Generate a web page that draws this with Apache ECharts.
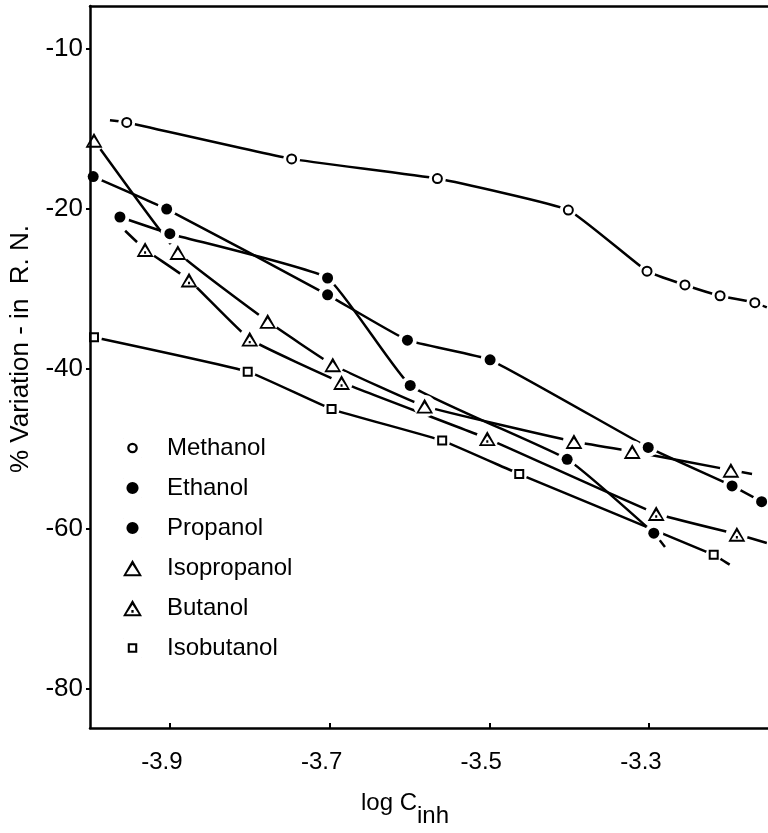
<!DOCTYPE html>
<html>
<head>
<meta charset="utf-8">
<script src="https://cdn.jsdelivr.net/npm/echarts@6/dist/echarts.min.js"></script>
<style>html,body{margin:0;padding:0;background:#fff;}#chart{width:768px;height:833px;}</style>
</head>
<body>
<div id="chart"></div>
<script>
// ---- axis ticks ----
const xTicks = [-3.9, -3.7, -3.5, -3.3];
const xTickLabels = ['-3.9', '-3.7', '-3.5', '-3.3'];
const yTicks = [-80, -60, -40, -20, 0];
const yTickLabels = ['-80', '-60', '-40', '-20', '-10'];

// ---- series values [log C_inh, % variation] ----
const seriesNames = ['Methanol', 'Ethanol', 'Propanol', 'Isopropanol', 'Butanol', 'Isobutanol'];
const methanol = [[-3.954, -9.16], [-3.7475, -13.72], [-3.565, -16.18], [-3.401, -20.12], [-3.3025, -27.76], [-3.255, -29.49], [-3.211, -30.84], [-3.1675, -31.70]];
const methanolLead = [-3.975, -8.9];
const methanolTrail = [-3.1525, -32.3];
const ethanol = [[-3.996, -15.93], [-3.904, -20.0], [-3.7025, -30.72], [-3.6025, -36.39], [-3.499, -38.85], [-3.301, -49.81], [-3.196, -54.62], [-3.159, -56.59]];
const propanol = [[-3.9625, -20.99], [-3.9, -23.08], [-3.7025, -28.62], [-3.599, -42.05], [-3.4025, -51.29], [-3.294, -60.53]];
const propanolTrail = [-3.28, -62.26];
const isopropanol = [[-3.995, -11.38], [-3.89, -25.42], [-3.7775, -34.04], [-3.696, -39.47], [-3.581, -44.64], [-3.394, -49.07], [-3.321, -50.31], [-3.1975, -52.65]];
const isopropanolTrail = [-3.171, -53.14];
const butanol = [[-3.931, -25.05], [-3.876, -28.87], [-3.8, -36.26], [-3.685, -41.68], [-3.5025, -48.70], [-3.291, -58.07], [-3.19, -60.66]];
const butanolLead = [-3.956, -22.71];
const butanolTrail = [-3.1525, -61.76];
const isobutanol = [[-3.995, -36.02], [-3.8025, -40.33], [-3.6975, -45.01], [-3.559, -48.95], [-3.4625, -53.14], [-3.219, -63.24]];
const isobutanolTrail = [-3.199, -64.47];

// ---- styling ----
const FONT = 'Liberation Sans, Arial, sans-serif';
const triOpen = 'path://M50 0 L100 87 L0 87 Z M50 27 L17 76 L83 76 Z';
const triDot = 'path://M50 0 L100 87 L0 87 Z M50 27 L17 76 L83 76 Z M44 54 L56 54 L56 68 L44 68 Z';
// legend icons (bbox padded to 100x100 so that small marks stay small)
const BOX = 'M0 0 L1 0 L0 1 Z M100 100 L99 100 L100 99 Z ';
const iconRing = 'path://' + BOX + 'M22 50 A28 28 0 1 1 78 50 A28 28 0 1 1 22 50 Z M34 50 A16 16 0 1 0 66 50 A16 16 0 1 0 34 50 Z';
const iconDisc = 'path://' + BOX + 'M18 50 A32 32 0 1 1 82 50 A32 32 0 1 1 18 50 Z';
const iconSquare = 'path://' + BOX + 'M25 25 L75 25 L75 75 L25 75 Z M36 36 L36 64 L64 64 L64 36 Z';

const markerDefs = [
  { name: seriesNames[0], data: methanol, lead: methanolLead, trail: methanolTrail, symbol: 'circle', size: 9, color: '#fff', border: 2, halo: 17, icon: iconRing },
  { name: seriesNames[1], data: ethanol, lead: null, trail: null, symbol: 'circle', size: 11, color: '#000', border: 0, halo: 19, icon: iconDisc },
  { name: seriesNames[2], data: propanol, lead: null, trail: propanolTrail, symbol: 'circle', size: 11, color: '#000', border: 0, halo: 19, icon: iconDisc },
  { name: seriesNames[3], data: isopropanol, lead: null, trail: isopropanolTrail, symbol: triOpen, size: [17, 15], color: '#000', border: 0, halo: 22, icon: triOpen },
  { name: seriesNames[4], data: butanol, lead: butanolLead, trail: butanolTrail, symbol: triDot, size: [17, 15], color: '#000', border: 0, halo: 22, icon: triDot },
  { name: seriesNames[5], data: isobutanol, lead: null, trail: isobutanolTrail, symbol: 'rect', size: 8, color: '#fff', border: 2, halo: 16, icon: iconSquare }
];

const series = [];
markerDefs.forEach(d => {
  const lineData = [];
  if (d.lead) lineData.push(d.lead);
  d.data.forEach(p => lineData.push(p));
  if (d.trail) lineData.push(d.trail);
  series.push({
    name: d.name + ' curve', type: 'line', data: lineData, smooth: 0.12,
    showSymbol: false, symbol: 'none', silent: true, z: 2,
    lineStyle: { color: '#000', width: 2.5 }
  });
  series.push({
    name: d.name + ' gap', type: 'scatter', data: d.data, symbol: 'circle', symbolSize: d.halo,
    itemStyle: { color: '#fff', opacity: 1 }, silent: true, z: 3
  });
  series.push({
    name: d.name, type: 'scatter', data: d.data, symbol: d.symbol, symbolSize: d.size, z: 4,
    itemStyle: { color: d.color, borderColor: '#000', borderWidth: d.border, opacity: 1 }
  });
});

const chart = echarts.init(document.getElementById('chart'), null, { renderer: 'canvas' });
chart.setOption({
  backgroundColor: '#fff',
  animation: false,
  grid: { left: 89, right: 0, top: 6, bottom: 94, containLabel: false },
  legend: {
    data: markerDefs.map(d => ({ name: d.name, icon: d.icon, itemStyle: { color: '#000', borderWidth: 0 } })),
    orient: 'vertical', left: 118, top: 431,
    itemWidth: 19, itemHeight: 19, itemGap: 16, symbolKeepAspect: true,
    textStyle: { fontFamily: FONT, fontSize: 24, color: '#000', padding: [0, 0, 0, 20] },
    selectedMode: false
  },
  xAxis: [{
    type: 'value', min: -4.0, max: -3.151, position: 'bottom', z: 10,
    axisLine: { show: true, onZero: false, lineStyle: { color: '#000', width: 2.5 } },
    axisTick: { show: true, inside: true, length: 5, customValues: xTicks, lineStyle: { color: '#000', width: 2 } },
    axisLabel: {
      show: true, customValues: xTicks, margin: 22, fontFamily: FONT, fontSize: 24, color: '#000',
      padding: [0, 16, 0, 0],
      formatter: v => { const i = xTicks.findIndex(t => Math.abs(t - v) < 1e-6); return i >= 0 ? xTickLabels[i] : ''; }
    },
    splitLine: { show: false },
    name: '{a|log C}{b|inh}', nameLocation: 'middle', nameGap: 50,
    nameTextStyle: {
      fontFamily: FONT, color: '#000', padding: [0, 48, 0, 0],
      rich: { a: { fontFamily: FONT, fontSize: 24, color: '#000' }, b: { fontFamily: FONT, fontSize: 24, color: '#000', padding: [26, 0, 0, 0] } }
    }
  }, {
    type: 'value', min: -4.0, max: -3.151, position: 'top', z: 10,
    axisLine: { show: true, onZero: false, lineStyle: { color: '#000', width: 2.5 } },
    axisTick: { show: false }, axisLabel: { show: false }, splitLine: { show: false }
  }],
  yAxis: {
    type: 'value', min: -84.9, max: 5.4, z: 10,
    axisLine: { show: true, onZero: false, lineStyle: { color: '#000', width: 2.5 } },
    axisTick: { show: true, inside: false, length: 4, customValues: yTicks, lineStyle: { color: '#000', width: 2 } },
    axisLabel: {
      show: true, customValues: yTicks, margin: 7, fontFamily: FONT, fontSize: 26, color: '#000',
      formatter: v => { const i = yTicks.findIndex(t => Math.abs(t - v) < 1e-6); return i >= 0 ? yTickLabels[i] : ''; }
    },
    splitLine: { show: false },
    name: '% Variation - in  R. N.', nameLocation: 'middle', nameGap: 56,
    nameTextStyle: { fontFamily: FONT, fontSize: 26, color: '#000', padding: [0, 0, 0, 36] }
  },
  series: series
});
</script>
</body>
</html>
